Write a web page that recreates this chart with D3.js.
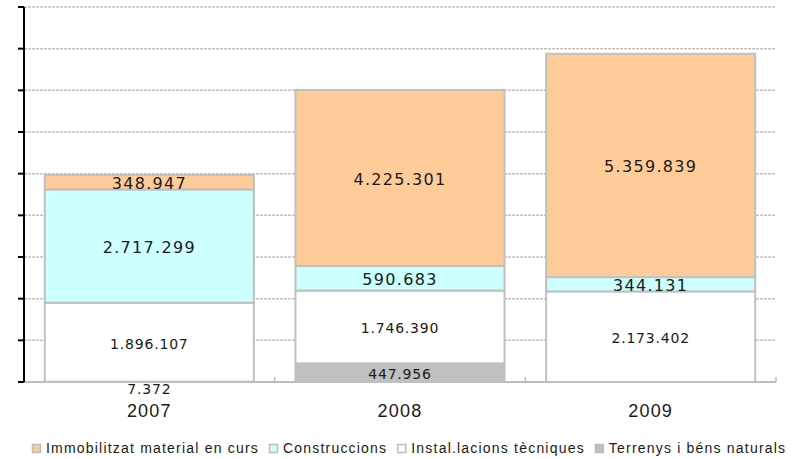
<!DOCTYPE html>
<html>
<head>
<meta charset="utf-8">
<script src="https://cdn.jsdelivr.net/npm/d3@7"></script>
<style>
  html, body { margin: 0; padding: 0; background: #fff; }
  svg { display: block; }
</style>
</head>
<body>
<svg id="chart" width="802" height="459"></svg>
<script>
// ---- data ----
const years = ["2007", "2008", "2009"];
const seriesNames = ["Terrenys i béns naturals", "Instal.lacions tècniques", "Construccions", "Immobilitzat material en curs"];
const terrenys = [7372, 447956, 0];
const instalacions = [1896107, 1746390, 2173402];
const construccions = [2717299, 590683, 344131];
const immobilitzat = [348947, 4225301, 5359839];
const legendOrder = ["Immobilitzat material en curs", "Construccions", "Instal.lacions tècniques", "Terrenys i béns naturals"];
const yTicks = [0, 1e6, 2e6, 3e6, 4e6, 5e6, 6e6, 7e6, 8e6, 9e6];

(function () {
const colors = {
  "Terrenys i béns naturals": "#C0C0C0",
  "Instal.lacions tècniques": "#FFFFFF",
  "Construccions": "#CCFFFF",
  "Immobilitzat material en curs": "#FFCC99"
};
const bigLabel = {
  "Terrenys i béns naturals": false,
  "Instal.lacions tècniques": false,
  "Construccions": true,
  "Immobilitzat material en curs": true
};

const rows = years.map((yr, i) => ({
  year: yr,
  "Terrenys i béns naturals": terrenys[i],
  "Instal.lacions tècniques": instalacions[i],
  "Construccions": construccions[i],
  "Immobilitzat material en curs": immobilitzat[i]
}));

const svg = d3.select("#chart");
const mLeft = 24, mRight = 776, mTop = 7, mBottom = 382;

const x = d3.scaleBand().domain(years).range([mLeft, mRight]).paddingInner(0.166).paddingOuter(0.083);
const y = d3.scaleLinear().domain([0, 9e6]).range([mBottom, mTop]);

// gridlines
svg.append("g").selectAll("line").data(yTicks.filter(d => d > 0)).join("line")
  .attr("x1", mLeft).attr("x2", mRight)
  .attr("y1", d => y(d)).attr("y2", d => y(d))
  .attr("stroke", "#c0c0c0").attr("stroke-width", 1.5)
  .attr("stroke-dasharray", "3,1");

// x baseline
svg.append("line").attr("x1", mLeft).attr("x2", mRight).attr("y1", mBottom).attr("y2", mBottom)
  .attr("stroke", "#bdbdbd").attr("stroke-width", 2);
const step = x.step();
svg.append("g").selectAll("line").data(years).join("line")
  .attr("x1", (d, i) => mLeft + step * (i + 1)).attr("x2", (d, i) => mLeft + step * (i + 1))
  .attr("y1", mBottom).attr("y2", mBottom - 5)
  .attr("stroke", "#bdbdbd").attr("stroke-width", 1.5);

// stacked bars
const stack = d3.stack().keys(seriesNames);
const layers = stack(rows);

const g = svg.append("g");
layers.forEach(layer => {
  const key = layer.key;
  g.append("g").selectAll("rect").data(layer.filter(d => d[1] - d[0] > 0)).join("rect")
    .attr("x", d => x(d.data.year))
    .attr("width", x.bandwidth())
    .attr("y", d => y(d[1]))
    .attr("height", d => y(d[0]) - y(d[1]))
    .attr("fill", colors[key])
    .attr("stroke", "#c0c0c0")
    .attr("stroke-width", 2);
});

// data labels
const fmt = v => d3.format(",")(v).replace(/,/g, ".");
layers.forEach(layer => {
  const key = layer.key;
  const big = bigLabel[key];
  g.append("g").selectAll("text").data(layer.filter(d => d[1] - d[0] > 0)).join("text")
    .attr("x", d => x(d.data.year) + x.bandwidth() / 2)
    .attr("y", d => {
      const h = y(d[0]) - y(d[1]);
      if (h < 4) return mBottom + 7;
      return (y(d[0]) + y(d[1])) / 2 + 1.5;
    })
    .attr("text-anchor", "middle")
    .attr("dominant-baseline", "central")
    .attr("font-family", "'DejaVu Sans', Verdana, sans-serif")
    .attr("font-size", big ? 16 : 14)
    .attr("letter-spacing", big ? 1.3 : 0.8)
    .attr("fill", "#1a1a1a")
    .text(d => fmt(d.data[key]));
});

// y axis
svg.append("line").attr("x1", mLeft).attr("x2", mLeft).attr("y1", mTop).attr("y2", mBottom)
  .attr("stroke", "#000").attr("stroke-width", 2);
svg.append("g").selectAll("line").data(yTicks).join("line")
  .attr("x1", mLeft - 6).attr("x2", mLeft)
  .attr("y1", d => y(d)).attr("y2", d => y(d))
  .attr("stroke", "#000").attr("stroke-width", 2);

// x labels
svg.append("g").selectAll("text").data(years).join("text")
  .attr("x", d => x(d) + x.bandwidth() / 2)
  .attr("y", 417)
  .attr("text-anchor", "middle")
  .attr("font-family", "'Liberation Sans', Arial, sans-serif")
  .attr("font-size", 18)
  .attr("letter-spacing", 1.2)
  .attr("fill", "#1a1a1a")
  .text(d => d);

// legend
const lg = svg.append("g");
let cx = 32;
legendOrder.forEach(name => {
  lg.append("rect").attr("x", cx + 0.5).attr("y", 444.5).attr("width", 8).attr("height", 8)
    .attr("fill", colors[name]).attr("stroke", "#bdbdbd").attr("stroke-width", 1.5);
  const t = lg.append("text").attr("x", cx + 14).attr("y", 453)
    .attr("font-family", "'Liberation Sans', Arial, sans-serif")
    .attr("font-size", 14)
    .attr("letter-spacing", 1.2)
    .attr("fill", "#1a1a1a")
    .text(name);
  cx += 14 + t.node().getComputedTextLength() + 10;
});
})();
</script>
</body>
</html>
